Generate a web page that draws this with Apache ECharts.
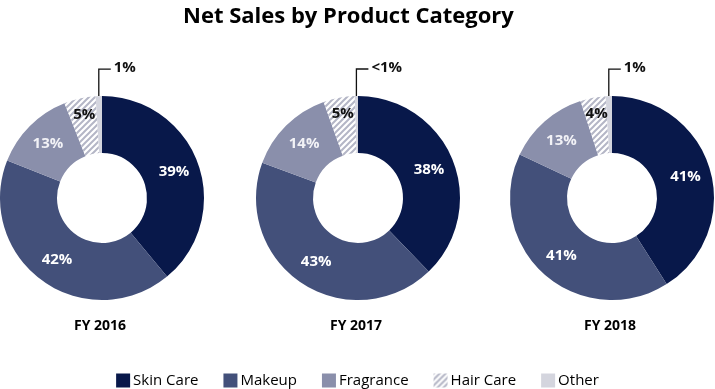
<!DOCTYPE html>
<html>
<head>
<meta charset="utf-8">
<script src="https://cdn.jsdelivr.net/npm/echarts@6/dist/echarts.min.js"></script>
<style>html,body{margin:0;padding:0;background:#fff}#c{width:715px;height:389px}</style>
</head>
<body>
<div id="c"></div>
<script>
const categories = ['Skin Care', 'Makeup', 'Fragrance', 'Hair Care', 'Other'];
const years = ['FY 2016', 'FY 2017', 'FY 2018'];
const fy2016 = [39, 42, 13, 5, 1];
const fy2017 = [38, 43, 14, 5, 0.5];
const fy2018 = [41, 41, 13, 4, 1];
const labels2016 = ['39%', '42%', '13%', '5%', '1%'];
const labels2017 = ['38%', '43%', '14%', '5%', '<1%'];
const labels2018 = ['41%', '41%', '13%', '4%', '1%'];

const FONT = '"Open Sans", "Liberation Sans", sans-serif';

function hatch() {
  const c = document.createElement('canvas');
  c.width = 6; c.height = 6;
  const g = c.getContext('2d');
  g.fillStyle = '#ffffff';
  g.fillRect(0, 0, 6, 6);
  g.strokeStyle = '#b4b6c6';
  g.lineWidth = 2;
  g.beginPath();
  g.moveTo(-1, 7); g.lineTo(7, -1);
  g.moveTo(-4, 4); g.lineTo(4, -4);
  g.moveTo(2, 10); g.lineTo(10, 2);
  g.stroke();
  return c;
}
const colors = ['#08184a', '#43507a', '#8a8fab', {image: hatch(), repeat: 'repeat'}, '#d4d5de'];
const labelColors = ['#ffffff', '#ffffff', '#f2f2f6', '#111111', '#111111'];

const chart = echarts.init(document.getElementById('c'));
const centersX = [102, 358, 612];
const datasets = [fy2016, fy2017, fy2018];
const labelSets = [labels2016, labels2017, labels2018];

function makeSeries(i) {
  const vals = datasets[i], labs = labelSets[i];
  return {
    type: 'pie',
    name: years[i],
    center: [centersX[i], 198],
    radius: [45, 102],
    startAngle: 90,
    clockwise: true,
    avoidLabelOverlap: false,
    silent: true,
    label: {
      show: true, position: 'inside', fontFamily: FONT, fontWeight: 'bold', fontSize: 15
    },
    labelLine: {show: false},
    labelLayout: function (p) {
      if (p.dataIndex !== 4 || !p.labelLinePoints) return {};
      const p0 = p.labelLinePoints[0];
      const topY = p0[1] - 27;
      return {
        x: p0[0] + 15, y: topY - 1, align: 'left', verticalAlign: 'middle',
        labelLinePoints: [[p0[0], p0[1]], [p0[0], topY], [p0[0] + 12, topY]]
      };
    },
    data: categories.map((name, k) => {
      const item = {
        name: name, value: vals[k],
        itemStyle: {color: colors[k]},
        label: {formatter: labs[k], color: labelColors[k]}
      };
      if (k === 3) item.label.offset = [-1, -9];
      if (k === 4) {
        item.label = {formatter: labs[k], color: '#111', position: 'outside'};
        item.labelLine = {show: true, length: 27, length2: 12, lineStyle: {color: '#111', width: 1.3}};
      }
      return item;
    })
  };
}

chart.setOption({
  animation: false,
  title: [
    {text: 'Net Sales by Product Category', left: 183, top: 6, padding: 0,
     textStyle: {fontFamily: FONT, fontWeight: 'bold', fontSize: 22, color: '#000'}}
  ].concat(years.map((y, i) => ({
    text: y, left: centersX[i] - 2, textAlign: 'center', top: 319, padding: 0,
    textStyle: {fontFamily: FONT, fontWeight: 'bold', fontSize: 14, color: '#000'}
  }))),
  legend: {
    data: categories,
    left: 'center', top: 373, padding: 0,
    itemWidth: 14, itemHeight: 14, itemGap: 25,
    icon: 'rect',
    textStyle: {fontFamily: FONT, fontSize: 15, color: '#000', padding: [0, 0, 0, -2]}
  },
  series: [0, 1, 2].map(makeSeries)
});
</script>
</body>
</html>
